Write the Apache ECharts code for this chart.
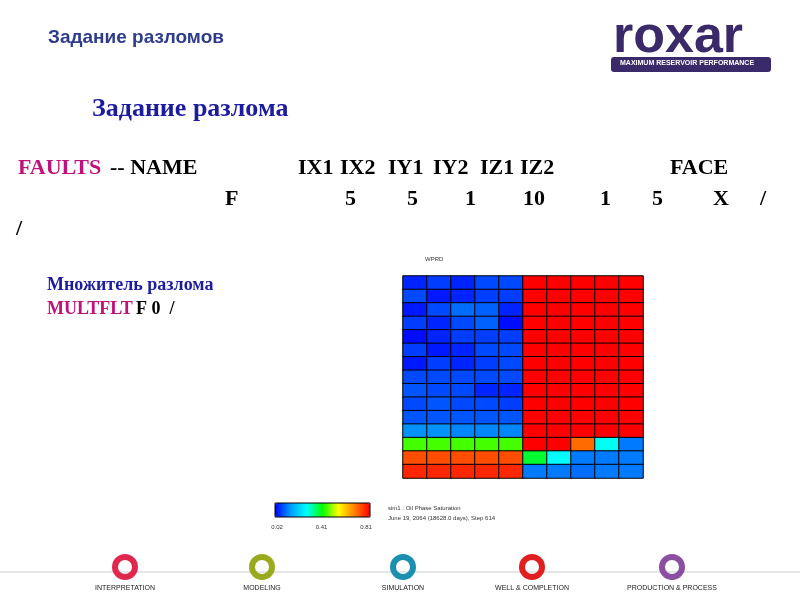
<!DOCTYPE html>
<html><head><meta charset="utf-8">
<script src="https://cdn.jsdelivr.net/npm/echarts@6/dist/echarts.min.js"></script>
<style>html,body{margin:0;background:#fff}#c{width:800px;height:600px}</style></head>
<body><div id="c"></div>
<script>
const columns = ['1','2','3','4','5','6','7','8','9','10'];
const rows = ['1','2','3','4','5','6','7','8','9','10','11','12','13','14','15'];
// oil saturation per row (top to bottom), 10 columns each
const saturation = [
 [0.05,0.07,0.05,0.08,0.08,0.81,0.81,0.81,0.81,0.81],
 [0.08,0.04,0.05,0.07,0.07,0.81,0.81,0.81,0.81,0.81],
 [0.04,0.08,0.11,0.10,0.05,0.81,0.81,0.81,0.81,0.81],
 [0.07,0.05,0.08,0.10,0.03,0.81,0.81,0.81,0.81,0.81],
 [0.03,0.05,0.07,0.07,0.07,0.81,0.81,0.81,0.81,0.81],
 [0.07,0.04,0.05,0.08,0.08,0.81,0.81,0.81,0.81,0.81],
 [0.04,0.07,0.05,0.07,0.08,0.81,0.81,0.81,0.81,0.81],
 [0.08,0.08,0.08,0.08,0.08,0.81,0.81,0.81,0.81,0.81],
 [0.09,0.08,0.08,0.05,0.05,0.81,0.81,0.81,0.81,0.81],
 [0.08,0.09,0.08,0.08,0.07,0.81,0.81,0.81,0.81,0.81],
 [0.09,0.09,0.09,0.09,0.09,0.81,0.81,0.81,0.81,0.81],
 [0.14,0.14,0.13,0.13,0.13,0.81,0.81,0.81,0.81,0.81],
 [0.45,0.45,0.45,0.45,0.45,0.81,0.81,0.70,0.29,0.12],
 [0.73,0.73,0.73,0.73,0.73,0.39,0.28,0.12,0.12,0.12],
 [0.77,0.77,0.77,0.77,0.77,0.12,0.12,0.11,0.12,0.12]
];
const scaleTicks = ['0.02','0.41','0.81'];
const faultsHeader = [['IX1',298],['IX2',340],['IY1',388],['IY2',433],['IZ1',480],['IZ2',520],['FACE',670]];
const faultsRow = [['F',225],['5',345],['5',407],['1',465],['10',523],['1',600],['5',652],['X',713],['/',760]];
const footerLabels = ['INTERPRETATION','MODELING','SIMULATION','WELL & COMPLETION','PRODUCTION & PROCESS'];
const footerColors = ['#e0284f','#9aaa1e','#1a8fb0','#e02020','#8a4fa0'];
const footerX = [125,262,403,532,672];

const data = [];
saturation.forEach((r,i)=>r.forEach((v,j)=>data.push([j,i,v])));

const F = 'bold 22px "Liberation Serif"';
const graphics = [
 {type:'text',left:48,top:28,style:{text:'Задание разломов',font:'bold 19px Arial',fill:'#2e3c8c'}},
 {type:'text',left:92,top:96,style:{text:'Задание разлома',font:'bold 26px "Liberation Serif"',fill:'#1c1ca0'}},
 {type:'text',left:18,top:157,style:{text:'FAULTS',font:F,fill:'#c0107a'}},
 {type:'text',left:110,top:157,style:{text:'-- NAME',font:F,fill:'#000'}},
 {type:'text',left:16,top:218,style:{text:'/',font:F,fill:'#000'}},
 {type:'text',left:47,top:276,style:{text:'Множитель разлома',font:'bold 18px "Liberation Serif"',fill:'#1c1ca0'}},
 {type:'text',left:47,top:300,style:{rich:{a:{font:'bold 18px "Liberation Serif"',fill:'#c0107a'},b:{font:'bold 18px "Liberation Serif"',fill:'#000'}},text:'{a|MULTFLT} {b|F 0  /}'}},
 {type:'text',left:613,top:12,style:{text:'roxar',font:'bold 52px Arial',fill:'#3a2a6a'}},
 {type:'rect',shape:{x:611,y:57,width:160,height:15,r:3},style:{fill:'#3a2a6a'}},
 {type:'text',left:620,top:60,style:{text:'MAXIMUM RESERVOIR PERFORMANCE',font:'bold 7px Arial',fill:'#fff'}},
 {type:'text',left:388,top:503,style:{text:'sim1 : Oil Phase Saturation\nJune 19, 2064 (18628.0 days), Step 614',font:'6px Arial',fill:'#333',lineHeight:10}},
 {type:'text',left:425,top:256,style:{text:'WPRD',font:'6px Arial',fill:'#333'}},
 {type:'text',left:635,top:366,style:{text:'INJ',font:'6px Arial',fill:'#333'}},
 {type:'line',shape:{x1:0,y1:572,x2:800,y2:572},style:{stroke:'#ccc',lineWidth:1}},
 {type:'rect',shape:{x:275,y:503,width:95,height:14},style:{fill:'none',stroke:'#000',lineWidth:1},z:100}
];
faultsHeader.forEach(([t,x])=>graphics.push({type:'text',left:x,top:157,style:{text:t,font:F,fill:'#000'}}));
faultsRow.forEach(([t,x])=>graphics.push({type:'text',left:x,top:188,style:{text:t,font:F,fill:'#000'}}));
footerLabels.forEach((l,i)=>{
 graphics.push({type:'circle',shape:{cx:footerX[i],cy:567,r:10},style:{fill:'none',stroke:footerColors[i],lineWidth:6}});
 graphics.push({type:'text',x:footerX[i],y:585,style:{text:l,font:'7px Arial',fill:'#222',align:'center'}});
});
scaleTicks.forEach((t,i)=>graphics.push({type:'text',x:277+i*44.5,y:524,style:{text:t,font:'6px Arial',fill:'#333',align:'center'}}));

const chart = echarts.init(document.getElementById('c'));
chart.setOption({
 animation:false,
 grid:{left:403,top:276,width:240,height:202},
 xAxis:{type:'category',data:columns,show:false},
 yAxis:{type:'category',data:rows,inverse:true,show:false},
 visualMap:{min:0.02,max:0.81,orient:'horizontal',left:260,top:488,itemWidth:14,itemHeight:95,calculable:false,showLabel:false,text:['',''],
   inRange:{color:['#0000ff','#00a0ff','#00ffff','#00ff00','#ffff00','#ff8000','#ff0000']}},
 series:[{type:'heatmap',data:data,itemStyle:{borderColor:'#000',borderWidth:1}}],
 graphic:graphics
});
</script></body></html>
